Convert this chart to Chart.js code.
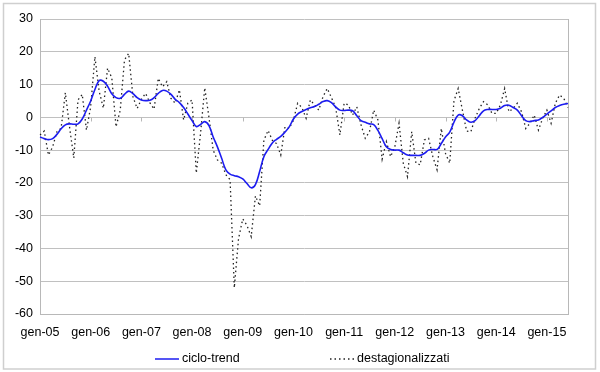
<!DOCTYPE html>
<html>
<head>
<meta charset="utf-8">
<script src="https://cdn.jsdelivr.net/npm/chart.js@4/dist/chart.umd.min.js"></script>
<style>
body{margin:0;background:#fff;}
</style>
</head>
<body>
<canvas id="trendChart" width="600" height="372"></canvas>
<script>

// mesi e anni per le etichette dell'asse
const months = ["gen","feb","mar","apr","mag","giu","lug","ago","set","ott","nov","dic"];
const years = ["05","06","07","08","09","10","11","12","13","14","15"];
const lastMonths = 6; // la serie finisce a giu-15

const yTicks = [-60, -50, -40, -30, -20, -10, 0, 10, 20, 30];

const cicloTrend = [
-6.0,-6.5,-6.8,-6.5,-5.2,-3.5,-2.3,-2.0,-2.1,-2.0,
-0.5,2.2,5.0,8.5,11.2,11.0,9.5,7.2,6.0,5.8,
7.0,8.0,7.2,6.0,5.3,5.1,5.2,6.0,7.3,8.2,
8.0,7.0,5.5,4.5,3.0,1.0,-1.0,-2.8,-2.2,-1.3,
-2.5,-6.0,-9.0,-12.5,-16.0,-17.3,-17.8,-18.1,-18.8,-20.2,
-21.5,-20.5,-16.5,-12.0,-9.8,-7.8,-6.7,-5.8,-4.5,-2.9,
-0.5,1.0,1.8,2.4,2.9,3.3,4.0,4.8,5.1,4.5,
3.2,2.2,2.1,2.2,2.0,0.5,-1.0,-1.5,-2.0,-2.2,
-4.0,-6.5,-9.0,-9.8,-10.0,-10.0,-10.8,-11.5,-11.6,-11.6,
-11.6,-11.0,-10.0,-9.8,-9.8,-8.0,-6.0,-4.5,-1.5,0.7,
0.5,-0.8,-1.5,-1.0,0.5,2.0,2.4,2.4,2.4,2.8,
3.6,3.7,3.0,2.2,0.5,-1.0,-1.3,-1.0,-0.8,0.0,
1.0,2.0,3.0,3.6,4.0,4.2
];

const destagionalizzati = [
-5.4,-4.2,-11.5,-9.0,-4.4,-3.3,7.5,-3.0,-12.4,5.3,
7.0,-3.9,3.2,18.5,8.0,2.8,15.0,12.0,-2.9,2.2,
17.5,19.5,6.3,2.7,5.5,7.3,4.5,2.5,11.9,9.3,
10.9,5.8,4.3,8.4,-0.8,4.3,5.3,-17.0,-5.0,9.0,
0.0,-10.0,-13.0,-14.0,-17.5,-19.0,-52.0,-37.0,-31.0,-33.0,
-36.4,-24.0,-27.0,-7.0,-4.0,-7.0,-8.0,-11.5,-2.9,-3.4,
-0.8,4.3,3.0,-0.3,5.3,3.8,2.2,6.3,8.8,6.0,
3.0,-5.4,4.3,3.8,0.7,3.2,-2.3,-6.4,-4.4,2.2,
-0.8,-12.8,-7.4,-12.0,-9.0,-1.8,-14.0,-18.1,-4.4,-14.0,
-14.5,-6.9,-6.4,-12.0,-16.0,-3.4,-11.0,-14.0,5.0,8.8,
2.2,-4.2,-4.4,-0.3,2.7,4.8,3.8,1.2,1.2,3.8,
8.8,1.7,2.7,4.3,1.7,-3.4,-1.8,0.7,-3.9,-0.3,
2.2,-1.8,4.3,6.8,5.8,3.0
];

let labels = [];
years.forEach(function(yy, k){
  const n = (k == years.length-1) ? lastMonths : 12;
  for(let m=0; m<n; m++){
    labels.push(months[m] + "-" + yy);
  }
});

const blue = "#1c1cf0";
const fontFamily = '"Liberation Sans", Arial, sans-serif';

Chart.defaults.font.family = fontFamily;
Chart.defaults.font.size = 12.5;
Chart.defaults.color = "#000";

// cornice esterna, bordo dell'area, tacche sull'asse e legenda
const extras = {
  id: "extras",
  beforeDraw(chart){
    const ctx = chart.ctx;
    ctx.save();
    ctx.fillStyle = "#fff";
    ctx.fillRect(0, 0, chart.width, chart.height);
    ctx.strokeStyle = "#cfcfcf";
    ctx.lineWidth = 1.5;
    ctx.strokeRect(3.5, 3.5, 592, 365.5);
    ctx.restore();
  },
  beforeDatasetsDraw(chart){
    const ctx = chart.ctx;
    const a = chart.chartArea;
    const x = chart.scales.x;
    const y0 = Math.round(chart.scales.y.getPixelForValue(0)) + 0.5;
    ctx.save();
    ctx.strokeStyle = "#b8b8b8";
    ctx.lineWidth = 1;
    ctx.beginPath();
    ctx.moveTo(Math.round(a.right) + 0.5, a.top);
    ctx.lineTo(Math.round(a.right) + 0.5, a.bottom);
    ctx.stroke();
    ctx.beginPath();
    for(let i=0; i<labels.length; i+=12){
      const px = Math.round(x.getPixelForValue(i)) + 0.5;
      ctx.moveTo(px, y0);
      ctx.lineTo(px, y0 + 4);
    }
    ctx.stroke();
    ctx.restore();
  },
  afterDraw(chart){
    const ctx = chart.ctx;
    const ly = 359;
    ctx.save();
    ctx.font = "12.5px " + fontFamily;
    ctx.fillStyle = "#000";
    ctx.textBaseline = "middle";

    ctx.strokeStyle = blue;
    ctx.lineWidth = 1.5;
    ctx.beginPath();
    ctx.moveTo(155, ly);
    ctx.lineTo(179, ly);
    ctx.stroke();
    ctx.fillText("ciclo-trend", 182, ly);

    ctx.strokeStyle = "#222";
    ctx.lineWidth = 1.3;
    ctx.setLineDash([1.5, 3]);
    ctx.beginPath();
    ctx.moveTo(330, ly);
    ctx.lineTo(355, ly);
    ctx.stroke();
    ctx.setLineDash([]);
    ctx.fillText("destagionalizzati", 357, ly);
    ctx.restore();
  }
};

const chart = new Chart(document.getElementById("trendChart"), {
  type: "line",
  data: {
    labels: labels,
    datasets: [
      {
        label: "ciclo-trend",
        data: cicloTrend,
        borderColor: blue,
        borderWidth: 1.6,
        tension: 0.4,
        pointRadius: 0,
        fill: false
      },
      {
        label: "destagionalizzati",
        data: destagionalizzati,
        borderColor: "#222",
        borderWidth: 1.3,
        borderDash: [1.5, 3],
        tension: 0,
        pointRadius: 0,
        fill: false
      }
    ]
  },
  options: {
    responsive: false,
    animation: false,
    layout: {
      padding: {left: 4, right: 32, top: 19, bottom: 28}
    },
    plugins: {
      legend: {display: false},
      tooltip: {enabled: false}
    },
    scales: {
      x: {
        offset: false,
        grid: {display: false, drawTicks: false},
        border: {display: true, color: "#b8b8b8"},
        ticks: {
          autoSkip: false,
          maxRotation: 0,
          padding: 11,
          callback: function(v, i){
            return labels[i].indexOf("gen") == 0 ? labels[i] : "";
          }
        },
        afterFit: function(scale){ scale.height = 30; }
      },
      y: {
        min: yTicks[0],
        max: yTicks[yTicks.length-1],
        afterBuildTicks: function(scale){
          scale.ticks = yTicks.map(function(v){ return {value: v}; });
        },
        grid: {color: "#c0c0c0", lineWidth: 1, drawTicks: false},
        border: {display: true, color: "#b8b8b8"},
        ticks: {padding: 7},
        afterFit: function(scale){ scale.width = 36; }
      }
    }
  },
  plugins: [extras]
});

</script>
</body>
</html>
